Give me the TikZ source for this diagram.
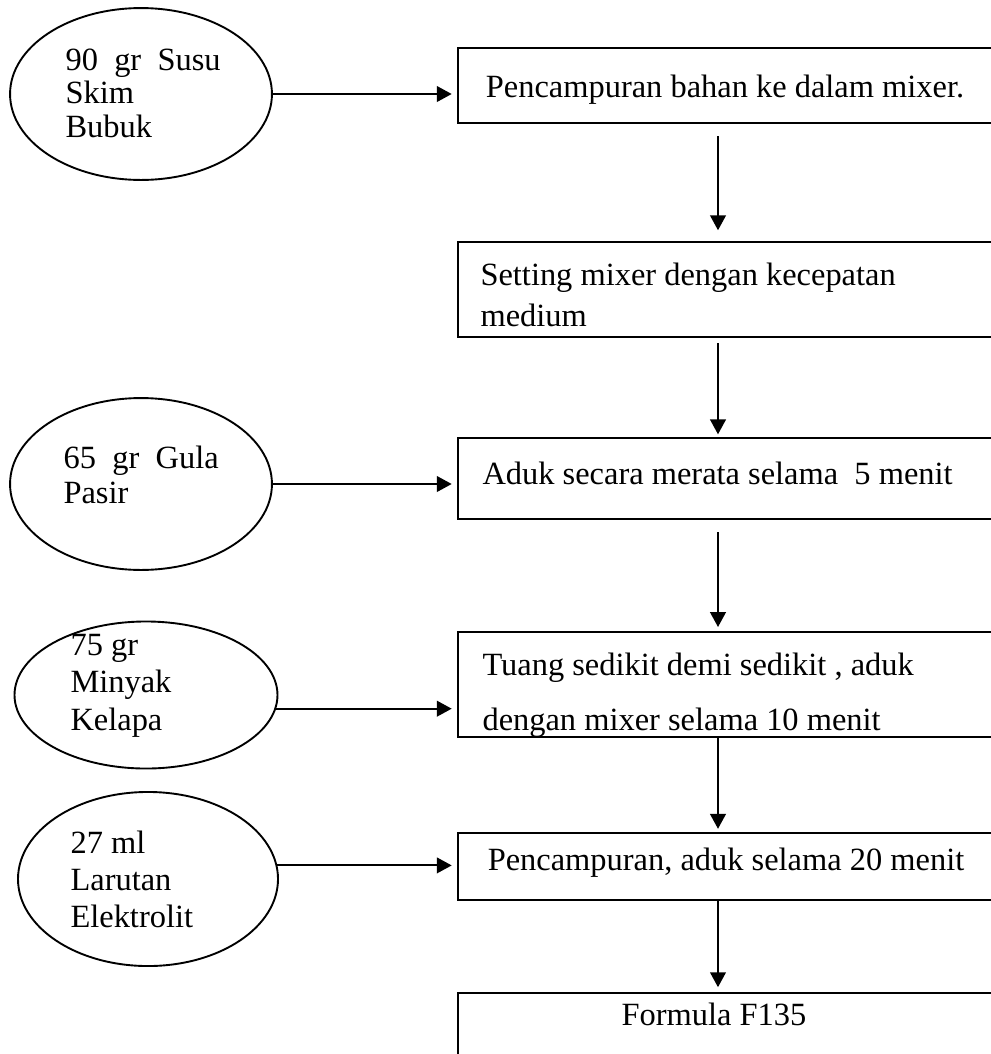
\documentclass[tikz,border=0pt]{standalone}
\usepackage{fontspec}
\setmainfont{Liberation Serif}
\usetikzlibrary{shapes.geometric, arrows.meta, calc}
\tikzstyle{stepbox} = [rectangle, draw=black, line width=0.7pt, minimum width=200.5pt, inner sep=0pt]
\tikzstyle{ingredient} = [ellipse, draw=black, line width=0.7pt, inner sep=0pt]
\tikzstyle{txt} = [inner sep=0pt, anchor=base west, font=\fontsize{12}{14}\selectfont]
\tikzstyle{arrow} = [line width=0.7pt, -{Triangle[length=5.5pt, width=5.8pt]}]

\begin{document}
\begin{tikzpicture}[x=0.37pt, y=-0.37pt]
    \useasboundingbox (0,0) rectangle (990,1054);

    % Ingredients
    \node[ingredient, minimum width=96.9pt, minimum height=63.6pt] (susu) at (141,94) {};
    \node[ingredient, minimum width=96.9pt, minimum height=63.6pt] (gula) at (141,484) {};
    \node[ingredient, minimum width=97.3pt, minimum height=54.4pt] (minyak) at (146,695) {};
    \node[ingredient, minimum width=96.2pt, minimum height=64.4pt] (larutan) at (148,879) {};

    % Process steps
    \node[stepbox, minimum height=27.75pt] (campur) at (729,85.5) {};
    \node[stepbox, minimum height=35.15pt] (setting) at (729,289.5) {};
    \node[stepbox, minimum height=30pt] (aduk) at (729,478.5) {};
    \node[stepbox, minimum height=38.85pt] (tuang) at (729,684.5) {};
    \node[stepbox, minimum height=24.8pt] (pencampuran) at (729,866.5) {};
    \node[stepbox, minimum height=24.8pt] (formula) at (729,1026.5) {};

    % Texts
    \node[txt] (tsusu) at (65,70) {\parbox[t]{60pt}{\fontsize{12}{12.4}\selectfont\makebox[57.4pt][s]{90 gr Susu}\\Skim\\Bubuk}};
    \node[txt] (tgula) at (63,468) {\parbox[t]{60pt}{\fontsize{12}{13.2}\selectfont\makebox[57.4pt][s]{65 gr Gula}\\Pasir}};
    \node[txt] (tminyak) at (70,655) {\parbox[t]{60pt}{\fontsize{12}{13.9}\selectfont 75 gr\\Minyak\\Kelapa}};
    \node[txt] (tlarutan) at (70,853) {\parbox[t]{60pt}{\fontsize{12}{13.7}\selectfont 27 ml\\Larutan\\Elektrolit}};
    \node[txt, anchor=base] (tcampur) at (725,97) {Pencampuran bahan ke dalam mixer.};
    \node[txt] (tsetting) at (480,285) {\parbox[t]{200pt}{\fontsize{12}{15.5}\selectfont Setting mixer dengan kecepatan\\medium}};
    \node[txt] (taduk) at (482,484) {Aduk secara merata selama\ \ 5 menit};
    \node[txt] (ttuang) at (482,675) {\parbox[t]{200pt}{\fontsize{12}{20.6}\selectfont Tuang sedikit demi sedikit , aduk\\dengan mixer selama 10 menit}};
    \node[txt, anchor=base] (tpencampuran) at (726,870) {Pencampuran, aduk selama 20 menit};
    \node[txt, anchor=base] (tformula) at (714,1025) {Formula F135};

    % Ingredient arrows
    \draw[arrow, shorten >=2pt] (susu.east) -- (susu.east -| campur.west);
    \draw[arrow, shorten >=2pt] (gula.east) -- (gula.east -| aduk.west);
    \draw[arrow, shorten >=2pt] (minyak.-6) -- (minyak.-6 -| tuang.west);
    \draw[arrow, shorten >=2pt] (larutan.6) -- (larutan.6 -| pencampuran.west);

    % Main flow
    \draw[arrow, shorten <=4.5pt, shorten >=4pt] ([xshift=-4.07pt]campur.south) -- ([xshift=-4.07pt]setting.north);
    \draw[arrow, shorten <=2pt, shorten >=1pt] ([xshift=-4.07pt]setting.south) -- ([xshift=-4.07pt]aduk.north);
    \draw[arrow, shorten <=4.5pt, shorten >=1.5pt] ([xshift=-4.07pt]aduk.south) -- ([xshift=-4.07pt]tuang.north);
    \draw[arrow, shorten >=1.2pt] ([xshift=-4.07pt]tuang.south) -- ([xshift=-4.07pt]pencampuran.north);
    \draw[arrow, shorten >=1.8pt] ([xshift=-4.07pt]pencampuran.south) -- ([xshift=-4.07pt]formula.north);

\end{tikzpicture}
\end{document}
